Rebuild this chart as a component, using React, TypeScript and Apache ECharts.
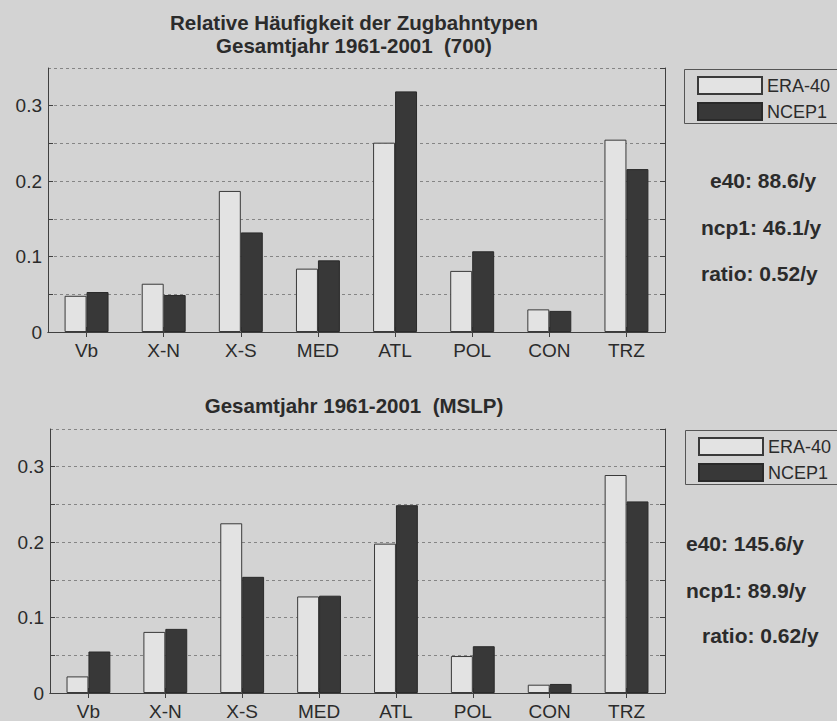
import React, { useEffect, useRef } from "react";
import * as echarts from "echarts";

const categories = ["Vb", "X-N", "X-S", "MED", "ATL", "POL", "CON", "TRZ"];
const seriesNames = ["ERA-40", "NCEP1"];

// Top panel: 1961-2001 (700)
const era40Top = [0.048, 0.064, 0.187, 0.084, 0.251, 0.081, 0.03, 0.255];
const ncep1Top = [0.053, 0.049, 0.132, 0.095, 0.319, 0.107, 0.028, 0.216];

// Bottom panel: 1961-2001 (MSLP)
const era40Bottom = [0.022, 0.081, 0.225, 0.128, 0.198, 0.049, 0.011, 0.289];
const ncep1Bottom = [0.055, 0.085, 0.154, 0.129, 0.249, 0.062, 0.012, 0.254];

const titleTop = ["Relative Häufigkeit der Zugbahntypen", "Gesamtjahr 1961-2001  (700)"];
const titleBottom = "Gesamtjahr 1961-2001  (MSLP)";
const statsTop = ["e40: 88.6/y", "ncp1: 46.1/y", "ratio: 0.52/y"];
const statsBottom = ["e40: 145.6/y", "ncp1: 89.9/y", "ratio: 0.62/y"];

const FONT = '"Liberation Sans", Arial, Helvetica, sans-serif';
const TEXT = "#2b2b2b";
const AXIS = "#404040";
const BG = "#d3d3d3";
const WHITE_BAR = "#e3e3e3";
const BLACK_BAR = "#383838";

function yLabel(v: number) {
  const r = Math.round(v * 100);
  if (r % 10 !== 0) return "";
  return r === 0 ? "0" : (r / 100).toFixed(1);
}

function axesFor(gridIndex: number) {
  const xBottom = {
    type: "category",
    gridIndex,
    data: categories,
    position: "bottom",
    axisLine: { show: true, lineStyle: { color: AXIS, width: 1 } },
    axisTick: { show: true, inside: true, alignWithLabel: true, length: 5, lineStyle: { color: AXIS } },
    axisLabel: { fontSize: 19, fontFamily: FONT, color: TEXT, margin: 9 },
    splitLine: { show: false },
  };
  const xTop = {
    type: "category",
    gridIndex,
    data: categories,
    position: "top",
    axisLine: { show: true, lineStyle: { color: AXIS, width: 1 } },
    axisTick: { show: true, inside: true, alignWithLabel: true, length: 5, lineStyle: { color: AXIS } },
    axisLabel: { show: false },
    splitLine: { show: false },
  };
  const yLeft = {
    type: "value",
    gridIndex,
    min: 0,
    max: 0.35,
    interval: 0.05,
    position: "left",
    axisLine: { show: true, lineStyle: { color: AXIS, width: 1 } },
    axisTick: { show: true, inside: true, length: 5, lineStyle: { color: AXIS } },
    axisLabel: { formatter: yLabel, fontSize: 19, fontFamily: FONT, color: TEXT, margin: 6, showMaxLabel: false },
    splitLine: { show: true, lineStyle: { color: "#858585", type: [3, 3], width: 1 } },
  };
  const yRight = {
    type: "value",
    gridIndex,
    min: 0,
    max: 0.35,
    interval: 0.05,
    position: "right",
    axisLine: { show: true, lineStyle: { color: AXIS, width: 1 } },
    axisTick: { show: true, inside: true, length: 5, lineStyle: { color: AXIS } },
    axisLabel: { show: false },
    splitLine: { show: false },
  };
  return { x: [xBottom, xTop], y: [yLeft, yRight] };
}

function barSeries(name: string, data: number[], axisIdx: number, white: boolean) {
  return {
    type: "bar",
    name,
    xAxisIndex: axisIdx,
    yAxisIndex: axisIdx,
    data,
    barGap: "0%",
    barCategoryGap: "43%",
    itemStyle: {
      color: white ? WHITE_BAR : BLACK_BAR,
      borderColor: white ? "#3a3a3a" : "#2a2a2a",
      borderWidth: 1,
    },
    emphasis: { disabled: true },
  };
}

function statTexts(lines: string[], xs: number[], ys: number[]) {
  return lines.map((t, i) => ({
    type: "text",
    x: xs[i],
    y: ys[i],
    style: {
      text: t,
      fill: TEXT,
      font: `bold 21px ${FONT}`,
      textAlign: "left",
      textVerticalAlign: "middle",
    },
  }));
}

function titleText(text: string, y: number) {
  return {
    type: "text",
    x: 354,
    y,
    style: { text, fill: TEXT, font: `bold 20.5px ${FONT}`, textAlign: "center", textVerticalAlign: "middle" },
  };
}

function legendBox(x: number, y: number) {
  return {
    type: "rect",
    shape: { x, y, width: 200, height: 54 },
    style: { fill: "none", stroke: "#555", lineWidth: 1 },
    z: 1,
  };
}

export default function App() {
  const ref = useRef<HTMLDivElement>(null);

  useEffect(() => {
    if (!ref.current) return;
    const chart = echarts.init(ref.current, null, { renderer: "svg" });
    const a0 = axesFor(0);
    const a1 = axesFor(1);

    const legendCommon = {
      orient: "vertical",
      icon: "rect",
      itemWidth: 64,
      itemHeight: 17,
      itemGap: 7,
      borderWidth: 0,
      padding: 0,
      textStyle: { fontSize: 18, fontFamily: FONT, color: TEXT },
      data: seriesNames,
      selectedMode: false,
    };

    chart.setOption({
      animation: false,
      backgroundColor: BG,
      grid: [
        { left: 48, top: 68, width: 617, height: 264 },
        { left: 50, top: 429, width: 615, height: 264 },
      ],
      xAxis: [a0.x[0], a0.x[1], a1.x[0], a1.x[1]],
      yAxis: [a0.y[0], a0.y[1], a1.y[0], a1.y[1]],
      legend: [
        { ...legendCommon, left: 697, top: 76 },
        { ...legendCommon, left: 698, top: 437 },
      ],
      series: [
        barSeries(seriesNames[0], era40Top, 0, true),
        barSeries(seriesNames[1], ncep1Top, 0, false),
        barSeries(seriesNames[0], era40Bottom, 2, true),
        barSeries(seriesNames[1], ncep1Bottom, 2, false),
      ],
      graphic: [
        titleText(titleTop[0], 22),
        titleText(titleTop[1], 45),
        titleText(titleBottom, 405),
        legendBox(684.5, 69.5),
        legendBox(685.5, 430.5),
        ...statTexts(statsTop, [710, 701, 701], [180, 227, 273]),
        ...statTexts(statsBottom, [686, 686, 702], [543, 590, 635]),
      ],
    });

    return () => chart.dispose();
  }, []);

  return (
    <div
      ref={ref}
      style={{ position: "absolute", left: 0, top: 0, width: 837, height: 721 }}
    />
  );
}
